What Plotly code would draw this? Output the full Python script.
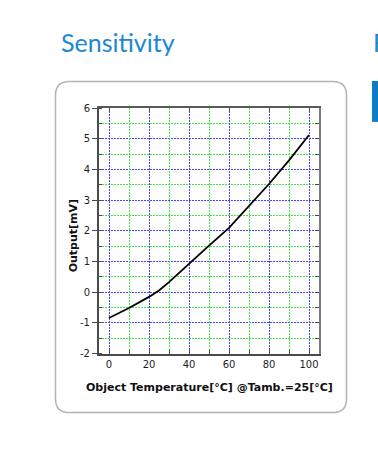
import plotly.graph_objects as go

# ---- data ----
temps = [0, 10, 20, 25, 30, 40, 50, 60, 70, 80, 90, 100]
output_mv = [-0.84, -0.51, -0.15, 0.06, 0.33, 0.94, 1.52, 2.10, 2.80, 3.53, 4.30, 5.13]
x_ticks = [0, 20, 40, 60, 80, 100]
y_ticks = [-2, -1, 0, 1, 2, 3, 4, 5, 6]
title_text = "Sensitivity"
x_title = "Object Temperature[°C] @Tamb.=25[°C]"
y_title = "Output[mV]"

W, H = 378, 458


def px(x):
    return x / W


def py(y):
    return 1 - y / H


L, R, T, B = 99, 319, 105, 357

BLUE_GRID = "rgb(70,70,255)"
GREEN_GRID = "rgb(70,230,70)"
AX = "#4a4a4a"
TICKFONT = dict(family="DejaVu Sans", size=10, color="#1e1e1e")
DASH = "2px,1px"

fig = go.Figure()
fig.add_trace(go.Scatter(x=temps, y=output_mv, mode="lines",
                         line=dict(color="black", width=1.8),
                         showlegend=False, hoverinfo="x+y"))
fig.add_trace(go.Scatter(x=[], y=[], xaxis="x2", yaxis="y2", showlegend=False))

fig.update_layout(
    width=W, height=H,
    margin=dict(l=0, r=0, t=0, b=0, pad=0),
    paper_bgcolor="white", plot_bgcolor="white",
    xaxis=dict(
        domain=[px(L), px(R)], range=[-5, 105],
        tickvals=x_ticks, ticktext=[str(v) for v in x_ticks],
        ticks="inside", ticklen=4, tickcolor=AX, tickwidth=1,
        tickfont=TICKFONT,
        showline=True, linecolor=AX, linewidth=2, zeroline=False,
        showgrid=True, gridcolor=BLUE_GRID, gridwidth=1, griddash=DASH,
        minor=dict(dtick=10, tick0=0, ticks="inside", ticklen=4, tickcolor=AX,
                   showgrid=False),
        fixedrange=True,
    ),
    yaxis=dict(
        domain=[py(B), py(T)], range=[-2, 6],
        tickvals=y_ticks, ticktext=[str(v) for v in y_ticks],
        ticks="outside", ticklen=5, tickcolor=AX, tickwidth=1,
        tickfont=TICKFONT,
        showline=True, linecolor=AX, linewidth=2, zeroline=False,
        showgrid=True, gridcolor=BLUE_GRID, gridwidth=1, griddash=DASH,
        minor=dict(dtick=0.5, tick0=0, ticks="inside", ticklen=3, tickcolor=AX,
                   showgrid=True, gridcolor=GREEN_GRID, gridwidth=1, griddash=DASH),
        fixedrange=True,
    ),
    xaxis2=dict(
        overlaying="x", anchor="y2", side="top", range=[-5, 105],
        dtick=20, tick0=10, ticks="", showticklabels=False,
        showgrid=True, gridcolor=GREEN_GRID, gridwidth=1, griddash=DASH,
        zeroline=False, showline=True, linecolor="#5a5a5a", linewidth=2,
        minor=dict(dtick=10, tick0=0, ticks="inside", ticklen=4, tickcolor=AX),
        fixedrange=True,
    ),
    yaxis2=dict(
        overlaying="y", anchor="x2", side="right", range=[-2, 6],
        dtick=0.5, tick0=0, ticks="inside", ticklen=4, tickcolor=AX,
        showticklabels=False, showgrid=False, zeroline=False,
        showline=True, linecolor="#7a7a7a", linewidth=2, fixedrange=True,
    ),
)

x0, x1, y0, y1, r = 55.5, 346.5, 77.5, 417.5, 14
path = (
    f"M {px(x0 + r)},{py(y0)} L {px(x1 - r)},{py(y0)} "
    f"Q {px(x1)},{py(y0)} {px(x1)},{py(y0 + r)} "
    f"L {px(x1)},{py(y1 - r)} Q {px(x1)},{py(y1)} {px(x1 - r)},{py(y1)} "
    f"L {px(x0 + r)},{py(y1)} Q {px(x0)},{py(y1)} {px(x0)},{py(y1 - r)} "
    f"L {px(x0)},{py(y0 + r)} Q {px(x0)},{py(y0)} {px(x0 + r)},{py(y0)} Z"
)
fig.add_shape(type="path", path=path, xref="paper", yref="paper",
              line=dict(color="#b4b4b4", width=1.5), layer="below")

fig.add_shape(type="rect", xref="paper", yref="paper",
              x0=px(372), x1=px(380), y0=py(119), y1=py(77),
              fillcolor="#0b7cc8", line=dict(width=0))

HEAD_FONT = dict(family="Lato", size=25, color="#1c88d4")
fig.add_annotation(text=title_text, xref="paper", yref="paper",
                   x=px(59), y=py(48), xanchor="left", yanchor="bottom",
                   showarrow=False, font=HEAD_FONT, yshift=-6)
fig.add_annotation(text="F", xref="paper", yref="paper",
                   x=px(371), y=py(48), xanchor="left", yanchor="bottom",
                   showarrow=False, font=HEAD_FONT, yshift=-6)

fig.add_annotation(text=x_title, xref="paper", yref="paper",
                   x=px(209), y=py(392), xanchor="center", yanchor="middle",
                   showarrow=False,
                   font=dict(family="DejaVu Sans", size=11, color="#111", weight="bold"))
fig.add_annotation(text=y_title, xref="paper", yref="paper",
                   x=px(73.5), y=py(236), xanchor="center", yanchor="middle",
                   textangle=-90, showarrow=False,
                   font=dict(family="DejaVu Sans", size=11, color="#111", weight="bold"))

fig.write_html("out.html",
               config={"displayModeBar": False},
               post_script="document.body.style.margin='0';document.body.style.overflow='hidden';")
